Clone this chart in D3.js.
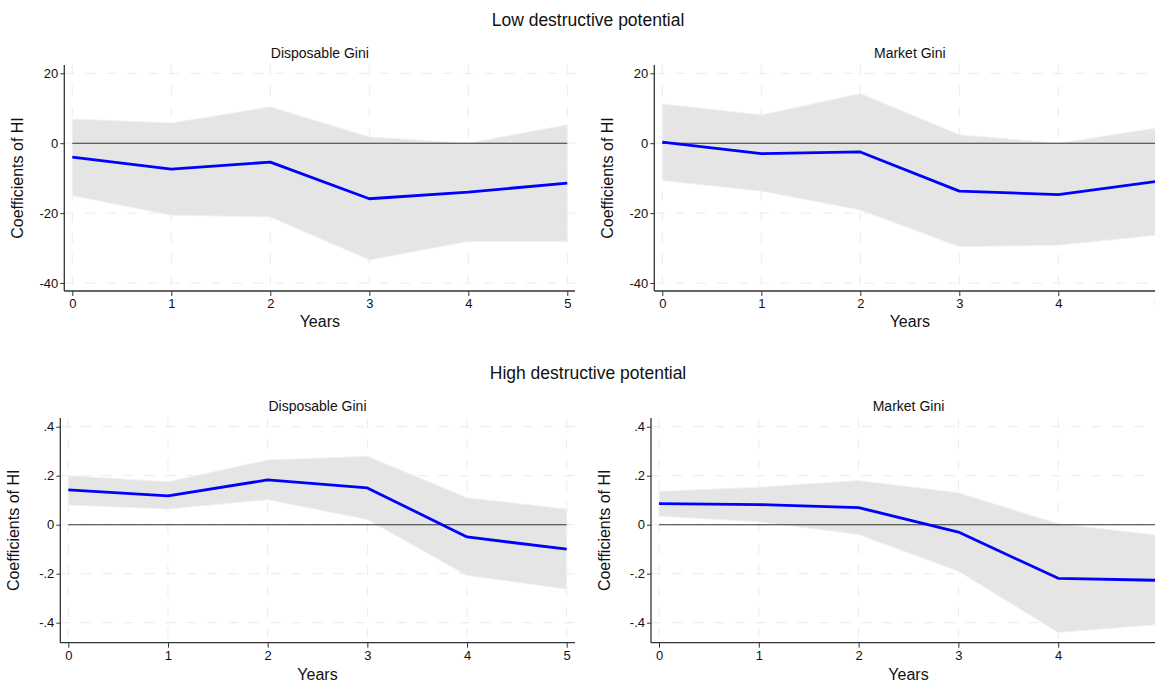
<!DOCTYPE html>
<html>
<head>
<meta charset="utf-8">
<script src="https://cdn.jsdelivr.net/npm/d3@7"></script>
<style>
  body { margin: 0; background: #fff; }
  text { font-family: Arial, "Liberation Sans", sans-serif; fill: #111; }
</style>
</head>
<body>
<div id="chart"></div>
<script>
// data (coefficients and 95% bands)
var years = [0, 1, 2, 3, 4, 5]

var lowDispCoef  = [-4, -7.4, -5.4, -15.9, -14, -11.4]
var lowDispUpper = [6.9, 5.8, 10.4, 1.8, 0, 5.3]
var lowDispLower = [-15, -20.6, -21.1, -33.4, -28.1, -28.1]

var lowMktCoef  = [0.3, -3, -2.5, -13.7, -14.7, -10.9]
var lowMktUpper = [11.2, 8.1, 14.2, 2.4, 0, 4.4]
var lowMktLower = [-10.7, -13.7, -19.1, -29.6, -29.2, -26.3]

var highDispCoef  = [0.142, 0.118, 0.183, 0.150, -0.05, -0.10]
var highDispUpper = [0.2, 0.175, 0.264, 0.279, 0.11, 0.064]
var highDispLower = [0.08, 0.064, 0.102, 0.021, -0.207, -0.263]

var highMktCoef  = [0.086, 0.082, 0.07, -0.03, -0.219, -0.227]
var highMktUpper = [0.136, 0.153, 0.18, 0.13, 0.004, -0.043]
var highMktLower = [0.035, 0.012, -0.04, -0.19, -0.44, -0.407]

var lowTicks = [-40, -20, 0, 20]
var lowTickLabels = ["-40", "-20", "0", "20"]
var highTicks = [-0.4, -0.2, 0, 0.2, 0.4]
var highTickLabels = ["-.4", "-.2", "0", ".2", ".4"]

var rowTitles = ["Low destructive potential", "High destructive potential"]
var colTitles = ["Disposable Gini", "Market Gini"]

var width = 1155, height = 680

var svg = d3.select("#chart").append("svg")
    .attr("width", width).attr("height", height)

var panels = [
  {title: colTitles[0], coef: lowDispCoef, upper: lowDispUpper, lower: lowDispLower,
   ticks: lowTicks, labels: lowTickLabels, yd: [-40, 20], yr: [283, 73.3],
   x0: 72.3, x5: 567.3, axisX: 64.3, top: 65, bottom: 291, right: 575, titleY: 58, yearsY: 327},
  {title: colTitles[1], coef: lowMktCoef, upper: lowMktUpper, lower: lowMktLower,
   ticks: lowTicks, labels: lowTickLabels, yd: [-40, 20], yr: [283, 73.3],
   x0: 662.3, x5: 1157.3, axisX: 654.3, top: 65, bottom: 291, right: 1165, titleY: 58, yearsY: 327},
  {title: colTitles[0], coef: highDispCoef, upper: highDispUpper, lower: highDispLower,
   ticks: highTicks, labels: highTickLabels, yd: [-0.4, 0.4], yr: [622.7, 426.7],
   x0: 68.3, x5: 566.7, axisX: 60.3, top: 418, bottom: 642.7, right: 575, titleY: 411, yearsY: 680},
  {title: colTitles[1], coef: highMktCoef, upper: highMktUpper, lower: highMktLower,
   ticks: highTicks, labels: highTickLabels, yd: [-0.4, 0.4], yr: [622.7, 426.7],
   x0: 659, x5: 1158, axisX: 651, top: 418, bottom: 642.7, right: 1165, titleY: 411, yearsY: 680}
]

// row titles
svg.append("text").attr("x", 588).attr("y", 26)
    .attr("text-anchor", "middle").style("font-size", "17.5px")
    .text(rowTitles[0])
svg.append("text").attr("x", 588).attr("y", 379)
    .attr("text-anchor", "middle").style("font-size", "17.5px")
    .text(rowTitles[1])

panels.forEach(function(p) {
  var g = svg.append("g")
  var x = d3.scaleLinear().domain([0, 5]).range([p.x0, p.x5])
  var y = d3.scaleLinear().domain(p.yd).range(p.yr)

  // grid
  g.selectAll(".hg").data(p.ticks).enter().append("line")
      .attr("x1", p.axisX).attr("x2", p.right)
      .attr("y1", function(d) { return y(d) }).attr("y2", function(d) { return y(d) })
      .style("stroke", "#ebebeb").style("stroke-dasharray", "10,11")
  g.selectAll(".vg").data(years).enter().append("line")
      .attr("x1", function(d) { return x(d) }).attr("x2", function(d) { return x(d) })
      .attr("y1", p.top).attr("y2", p.bottom)
      .style("stroke", "#ebebeb").style("stroke-dasharray", "10,11")

  // confidence band
  var area = d3.area()
      .x(function(d, i) { return x(years[i]) })
      .y0(function(d, i) { return y(p.lower[i]) })
      .y1(function(d, i) { return y(p.upper[i]) })
  g.append("path").datum(p.coef).attr("d", area)
      .style("fill", "#e5e5e5").style("stroke", "#f2f2f2").style("stroke-width", 1)

  // zero line
  g.append("line").attr("x1", x(0)).attr("x2", x(5))
      .attr("y1", y(0)).attr("y2", y(0))
      .style("stroke", "#333").style("stroke-width", 1.1)

  // coefficient line
  var line = d3.line()
      .x(function(d, i) { return x(years[i]) })
      .y(function(d) { return y(d) })
  g.append("path").datum(p.coef).attr("d", line)
      .style("fill", "none").style("stroke", "#0000ff").style("stroke-width", 2.8)
      .style("stroke-linejoin", "round")

  // axes
  var yAxis = d3.axisLeft(y).tickValues(p.ticks)
      .tickFormat(function(d, i) { return p.labels[i] })
      .tickSize(4).tickPadding(2).tickSizeOuter(0)
  var ya = g.append("g").attr("transform", "translate(" + p.axisX + ",0)").call(yAxis)
  ya.select(".domain").remove()
  ya.selectAll("text").style("font-size", "13px").attr("fill", "#111")
  ya.selectAll("line").style("stroke", "#333")

  var xAxis = d3.axisBottom(x).tickValues(years).tickFormat(d3.format("d"))
      .tickSize(5).tickPadding(3).tickSizeOuter(0)
  var xa = g.append("g").attr("transform", "translate(0," + p.bottom + ")").call(xAxis)
  xa.select(".domain").remove()
  xa.selectAll("text").style("font-size", "13px").attr("fill", "#111")
  xa.selectAll("line").style("stroke", "#333")

  g.append("line").attr("x1", p.axisX).attr("x2", p.axisX)
      .attr("y1", p.top).attr("y2", p.bottom)
      .style("stroke", "#333").style("stroke-width", 1.3)
  g.append("line").attr("x1", p.axisX).attr("x2", p.right)
      .attr("y1", p.bottom).attr("y2", p.bottom)
      .style("stroke", "#333").style("stroke-width", 1.3)

  // titles
  var cx = (p.axisX + p.x5 + 8) / 2
  g.append("text").attr("x", cx).attr("y", p.titleY)
      .attr("text-anchor", "middle").style("font-size", "14px")
      .text(p.title)
  g.append("text").attr("x", cx).attr("y", p.yearsY)
      .attr("text-anchor", "middle").style("font-size", "16px")
      .text("Years")
  g.append("text")
      .attr("transform", "translate(" + (p.axisX - 41) + "," + ((p.top + p.bottom) / 2) + ") rotate(-90)")
      .attr("text-anchor", "middle").style("font-size", "16px")
      .text("Coefficients of HI")
})
</script>
</body>
</html>
